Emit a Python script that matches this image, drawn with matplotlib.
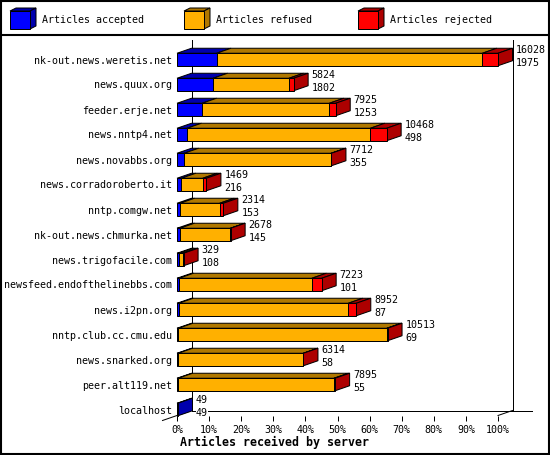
import matplotlib
matplotlib.use('Agg')
import matplotlib.pyplot as plt
from matplotlib.patches import Polygon, Rectangle
import matplotlib.transforms as mtransforms

servers = ['nk-out.news.weretis.net', 'news.quux.org', 'feeder.erje.net',
           'news.nntp4.net', 'news.novabbs.org', 'news.corradoroberto.it',
           'nntp.comgw.net', 'nk-out.news.chmurka.net', 'news.trigofacile.com',
           'newsfeed.endofthelinebbs.com', 'news.i2pn.org', 'nntp.club.cc.cmu.edu',
           'news.snarked.org', 'peer.alt119.net', 'localhost']
totals = [16028, 5824, 7925, 10468, 7712, 1469, 2314, 2678, 329, 7223, 8952, 10513, 6314, 7895, 49]
accepted = [1975, 1802, 1253, 498, 355, 216, 153, 145, 108, 101, 87, 69, 58, 55, 49]
refused = [13269, 3789, 6352, 9155, 7345, 1068, 1976, 2523, 180, 6632, 8465, 10409, 6251, 7780, 0]
rejected = [784, 233, 320, 815, 12, 185, 185, 10, 41, 490, 400, 35, 5, 60, 0]
tick_pos = [0, 10, 20, 30, 40, 50, 60, 70, 80, 90, 100]
tick_labels = ['0%', '10%', '20%', '30%', '40%', '50%', '60%', '70%', '80%', '90%', '100%']
legend_names = ['Articles accepted', 'Articles refused', 'Articles rejected']

blue, dblue = '#0000ff', '#0000ad'
orange, dorange = '#ffb000', '#b07800'
red, dred = '#ff0000', '#ad0000'
colors = [(blue, dblue), (orange, dorange), (red, dred)]

plt.rcParams['font.family'] = 'DejaVu Sans Mono'
fs = 7.2
lw = 0.72

W, H = 550, 455
fig = plt.figure(figsize=(5.5, 4.55), dpi=100)

# background layer: frame and legend in pixel units
bg = fig.add_axes([0, 0, 1, 1])
bg.set_xlim(0, W)
bg.set_ylim(H, 0)
bg.axis('off')
bg.add_patch(Rectangle((1, 1), W - 2, H - 2, fill=False, ec='black', lw=1.5))
bg.plot([0, W], [35, 35], color='black', lw=1.5)

legend_x = [10, 184, 358]
for k in range(3):
    x0 = legend_x[k]
    c, dc = colors[k]
    bg.add_patch(Polygon([(x0, 11), (x0 + 20, 11), (x0 + 26, 8), (x0 + 6, 8)], fc=dc, ec='black', lw=lw))
    bg.add_patch(Polygon([(x0 + 20, 11), (x0 + 20, 29), (x0 + 26, 26), (x0 + 26, 8)], fc=dc, ec='black', lw=lw))
    bg.add_patch(Rectangle((x0, 11), 20, 18, fc=c, ec='black', lw=lw))
    bg.text(x0 + 32, 20, legend_names[k], fontsize=fs, va='center', ha='left')

# main chart
ax = fig.add_axes([177 / W, 1 - 415.5 / H, 321 / W, 375.5 / H])
ax.set_facecolor('none')
ax.set_xlim(0, 100)
ax.set_ylim(14.24, -0.78)
for s in ax.spines.values():
    s.set_visible(False)

dxd = 14.5 / 321 * 100
dyd = -5 / 25.0
h = 0.5
scale = 100.0 / max(totals)
ymax = 14.24

# back walls and floor, behind the bars
ax.plot([dxd, dxd], [-0.78, ymax + dyd], color='black', lw=lw, clip_on=False, zorder=0.5)
ax.plot([100 + dxd, 100 + dxd], [-0.78, ymax + dyd], color='black', lw=lw, clip_on=False, zorder=0.5)
ax.plot([dxd, 110.6], [ymax + dyd, ymax + dyd], color='black', lw=lw, clip_on=False, zorder=0.5)
ax.plot([-dxd, dxd], [ymax - dyd, ymax + dyd], color='black', lw=lw, clip_on=False, zorder=0.5)
ax.plot([100, 100 + dxd], [ymax, ymax + dyd], color='black', lw=lw, clip_on=False, zorder=0.5)

label_tr = mtransforms.offset_copy(ax.transData, fig, x=3.5, y=0, units='dots')

for i in range(len(servers)):
    left = 0
    segs = [accepted[i], refused[i], rejected[i]]
    last_dark = dblue
    for k in range(3):
        val = segs[k]
        if val == 0:
            continue
        w = val * scale
        c, dc = colors[k]
        yt = i - h / 2
        ax.add_patch(Polygon([(left, yt), (left + w, yt), (left + w + dxd, yt + dyd), (left + dxd, yt + dyd)],
                             fc=dc, ec='black', lw=lw, clip_on=False, zorder=1))
        ax.barh(i, w, left=left, height=h, color=c, edgecolor='black', linewidth=lw, clip_on=False, zorder=1.2)
        left += w
        last_dark = dc
    yt = i - h / 2
    yb = i + h / 2
    ax.add_patch(Polygon([(left, yt), (left, yb), (left + dxd, yb + dyd), (left + dxd, yt + dyd)],
                         fc=last_dark, ec='black', lw=lw, clip_on=False, zorder=1))
    ax.text(left + dxd, yt, str(totals[i]), transform=label_tr, fontsize=fs, va='baseline', ha='left',
            bbox=dict(fc='white', ec='none', pad=0), zorder=3)
    ax.text(left + dxd, yb, str(accepted[i]), transform=label_tr, fontsize=fs, va='baseline', ha='left',
            bbox=dict(fc='white', ec='none', pad=0), zorder=3)

ax.set_xlim(0, 100)
ax.set_ylim(14.24, -0.78)
ax.set_yticks(range(len(servers)))
ax.set_yticklabels(servers, fontsize=fs)
ax.set_xticks(tick_pos)
ax.set_xticklabels(tick_labels, fontsize=fs)
ax.tick_params(axis='y', length=0, pad=3.6)
ax.tick_params(axis='x', length=3.6, width=lw, direction='out', pad=2.9)

fig.text(180 / W, 1 - 442 / H, 'Articles received by server', fontsize=8.4, fontweight='bold',
         ha='left', va='center')

fig.savefig('out.png', dpi=100)
